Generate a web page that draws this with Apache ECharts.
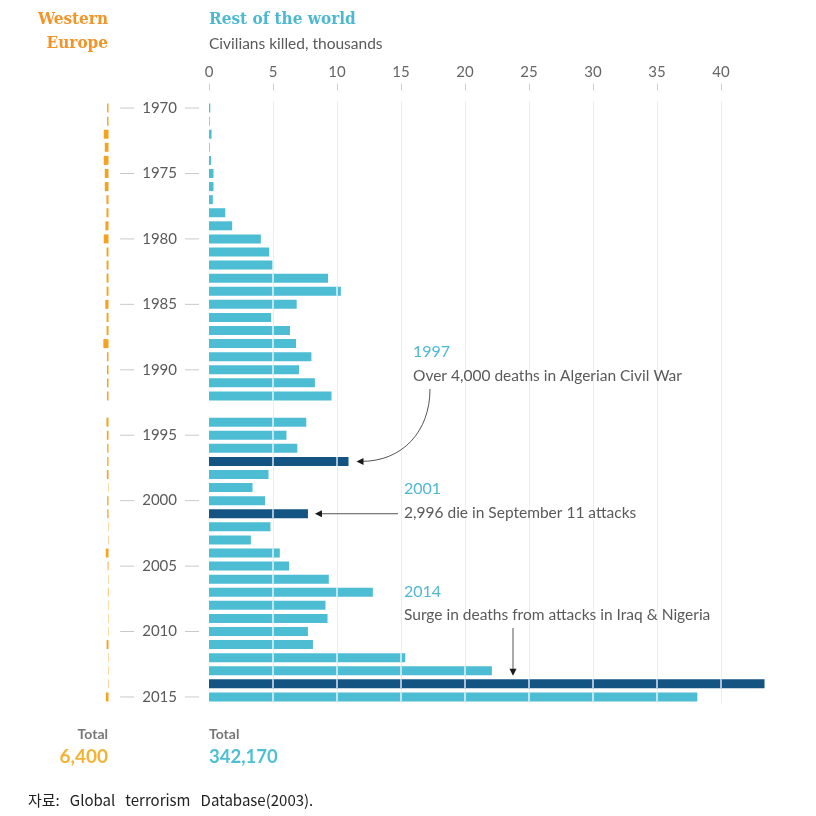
<!DOCTYPE html>
<html><head><meta charset="utf-8">
<script src="https://cdn.jsdelivr.net/npm/echarts@6/dist/echarts.min.js"></script>
<style>html,body{margin:0;padding:0;background:#fff}#c{width:816px;height:816px}</style>
</head><body><div id="c"></div>
<script>
const years = ['1970','1971','1972','1973','1974','1975','1976','1977','1978','1979',
  '1980','1981','1982','1983','1984','1985','1986','1987','1988','1989',
  '1990','1991','1992','1993','1994','1995','1996','1997','1998','1999',
  '2000','2001','2002','2003','2004','2005','2006','2007','2008','2009',
  '2010','2011','2012','2013','2014','2015'];
// Civilians killed, thousands — rest of the world (1993 missing)
const restOfWorld = [0.1,0.05,0.2,0.05,0.15,0.35,0.35,0.3,1.27,1.81,
  4.05,4.7,4.95,9.3,10.3,6.85,4.85,6.33,6.8,8.0,
  7.03,8.27,9.57,null,7.6,6.05,6.9,10.9,4.65,3.4,
  4.38,7.73,4.8,3.27,5.53,6.25,9.36,12.8,9.1,9.26,
  7.73,8.12,15.33,22.1,43.4,38.15];
// Civilians killed, thousands — Western Europe
const westernEurope = [0.11,0.11,0.37,0.29,0.37,0.29,0.29,0.16,0.16,0.24,
  0.37,0.15,0.15,0.15,0.15,0.25,0.15,0.15,0.40,0.12,
  0.12,0.12,0.12,null,0.16,0.13,0.10,0.10,0.13,0.03,
  0.10,0.10,0.03,0.03,0.21,0.07,0.03,0.05,0.03,0.03,
  0.03,0.15,0.03,0.03,0.03,0.20];
const highlightYears = ['1997','2001','2014'];
const totalWE = '6,400';
const totalROW = '342,170';

const SANS = 'Lato, "Open Sans", sans-serif';
const SERIF = '"DejaVu Serif Condensed", "DejaVu Serif", serif';
const TEAL = '#4dbdd3', DARK = '#145483', ORANGE = '#f6a221';
const GRAY = '#5a5a5a';

const chart = echarts.init(document.getElementById('c'), null, {renderer:'canvas'});
const TOP = 101.5, HEIGHT = 602;
const PX_PER_UNIT = (721 - 209) / 40;
const BAR_W = 9;
const GRID_STEP = 5;

chart.setOption({
  animation:false,
  backgroundColor:'#fff',
  grid:[
    {left:209, right:95, top:TOP, height:HEIGHT},
    {left:8.5, width:100, top:TOP, height:HEIGHT}
  ],
  xAxis:[
    {gridIndex:0, type:'value', position:'top', min:0, max:40, interval:GRID_STEP,
      axisLine:{show:false}, axisTick:{show:false}, axisLabel:{show:false},
      splitLine:{show:true, showMinLine:false, lineStyle:{color:'#ededed', width:1}}},
    {gridIndex:0, type:'value', position:'top', offset:11, min:0, max:40, interval:GRID_STEP,
      axisLine:{show:false}, axisTick:{show:true, length:7, lineStyle:{color:'#cccccc'}},
      axisLabel:{margin:11, color:'#666', fontSize:15, fontFamily:SANS},
      splitLine:{show:false}},
    {gridIndex:1, type:'value', inverse:true, min:0, max:100/PX_PER_UNIT, show:false}
  ],
  yAxis:[
    {gridIndex:0, type:'category', data:years, inverse:true,
      axisLine:{show:false}, axisTick:{show:false}, splitLine:{show:false},
      axisLabel:{interval:0, margin:10,
        formatter:v => (Number(v) % 5 === 0) ? '{d| }{y|' + v + '}{d| }' : '',
        rich:{
          d:{width:14, height:1, backgroundColor:'#c9c9c9', fontSize:1, lineHeight:1, verticalAlign:'middle'},
          y:{color:GRAY, fontSize:15, fontFamily:SANS, padding:[0,8,0,8]}
        }}},
    {gridIndex:1, type:'category', data:years, inverse:true, show:false}
  ],
  series:[
    {type:'bar', xAxisIndex:0, yAxisIndex:0, barWidth:BAR_W, clip:false,
      data:restOfWorld.map((v,i) => ({value:v, itemStyle:{color: highlightYears.includes(years[i]) ? DARK : TEAL}}))},
    {type:'custom', xAxisIndex:0, yAxisIndex:0, z:5, clip:false, silent:true,
      data:restOfWorld.map((v,i) => [v, i]),
      renderItem:function(params, api){
        const v = api.value(0), i = api.value(1);
        const children = [];
        if (v == null || isNaN(v)) return {type:'group', children:children};
        for (let k = GRID_STEP; k < v - 0.05; k += GRID_STEP) {
          const c = api.coord([k, i]);
          children.push({type:'line', shape:{x1:c[0], y1:c[1]-BAR_W/2, x2:c[0], y2:c[1]+BAR_W/2},
            style:{stroke:'rgba(255,255,255,0.85)', lineWidth:1.5}});
        }
        return {type:'group', children:children};
      }},
    {type:'bar', xAxisIndex:2, yAxisIndex:1, barWidth:BAR_W,
      itemStyle:{color:ORANGE}, data:westernEurope}
  ]
});

function pt(year){
  const i = years.indexOf(year);
  return chart.convertToPixel({xAxisIndex:0, yAxisIndex:0}, [restOfWorld[i], i]);
}
const p97 = pt('1997'), p01 = pt('2001'), p14 = pt('2014');
const ARROW = '#555', HEAD = '#1a1a1a';
function txt(x,y,text,opt){
  return {type:'text', x:x, y:y, silent:true, style:Object.assign({text:text, fill:GRAY, font:'15.5px ' + SANS, textVerticalAlign:'middle', textAlign:'left'}, opt||{})};
}
const g = [];
// titles
g.push(txt(108,20,'Western',{fill:'#f39428', font:'bold 17px ' + SERIF, textAlign:'right'}));
g.push(txt(108,44,'Europe',{fill:'#f39428', font:'bold 17px ' + SERIF, textAlign:'right'}));
g.push(txt(209,20,'Rest of the world',{fill:'#4cb9d1', font:'bold 17px ' + SERIF}));
g.push(txt(209,44,'Civilians killed, thousands',{fill:GRAY, font:'15.5px ' + SANS}));
// totals
g.push(txt(108,734,'Total',{fill:'#777', font:'bold 14px ' + SANS, textAlign:'right'}));
g.push(txt(108,757,totalWE,{fill:'#f5b335', font:'bold 19px ' + SANS, textAlign:'right'}));
g.push(txt(209,734,'Total',{fill:'#777', font:'bold 14px ' + SANS}));
g.push(txt(209,757,totalROW,{fill:'#4fbfd6', font:'bold 18.5px ' + SANS}));
// source
g.push(txt(28,800,'자료:   Global   terrorism   Database(2003).',{fill:'#222', font:'15px "Noto Sans CJK KR", sans-serif'}));
// annotations
g.push(txt(413,352,'1997',{fill:'#4fb8d0', font:'16px ' + SANS}));
g.push(txt(413,376,'Over 4,000 deaths in Algerian Civil War'));
g.push(txt(404,489,'2001',{fill:'#4fb8d0', font:'16px ' + SANS}));
g.push(txt(404,513,'2,996 die in September 11 attacks'));
g.push(txt(404,592,'2014',{fill:'#4fb8d0', font:'16px ' + SANS}));
g.push(txt(404,615,'Surge in deaths from attacks in Iraq & Nigeria'));
// arrow 1997 (curved)
const t97 = [p97[0] + 8, p97[1]];
g.push({type:'bezierCurve', silent:true, shape:{x1:430, y1:389, cpx1:430, cpy1:432, cpx2:402, cpy2:t97[1], x2:t97[0] + 5, y2:t97[1]}, style:{stroke:ARROW, lineWidth:1, fill:null}});
g.push({type:'polygon', silent:true, shape:{points:[[t97[0],t97[1]],[t97[0]+7,t97[1]-3.5],[t97[0]+7,t97[1]+3.5]]}, style:{fill:HEAD}});
// arrow 2001
const t01 = [p01[0] + 7, p01[1]];
g.push({type:'line', silent:true, shape:{x1:398, y1:t01[1], x2:t01[0]+5, y2:t01[1]}, style:{stroke:ARROW, lineWidth:1}});
g.push({type:'polygon', silent:true, shape:{points:[[t01[0],t01[1]],[t01[0]+7,t01[1]-3.5],[t01[0]+7,t01[1]+3.5]]}, style:{fill:HEAD}});
// arrow 2014
const t14 = [513, p14[1] - 8];
g.push({type:'line', silent:true, shape:{x1:t14[0], y1:628, x2:t14[0], y2:t14[1]-5}, style:{stroke:ARROW, lineWidth:1}});
g.push({type:'polygon', silent:true, shape:{points:[[t14[0],t14[1]],[t14[0]-3.5,t14[1]-7],[t14[0]+3.5,t14[1]-7]]}, style:{fill:HEAD}});
chart.setOption({graphic:g});
</script></body></html>
